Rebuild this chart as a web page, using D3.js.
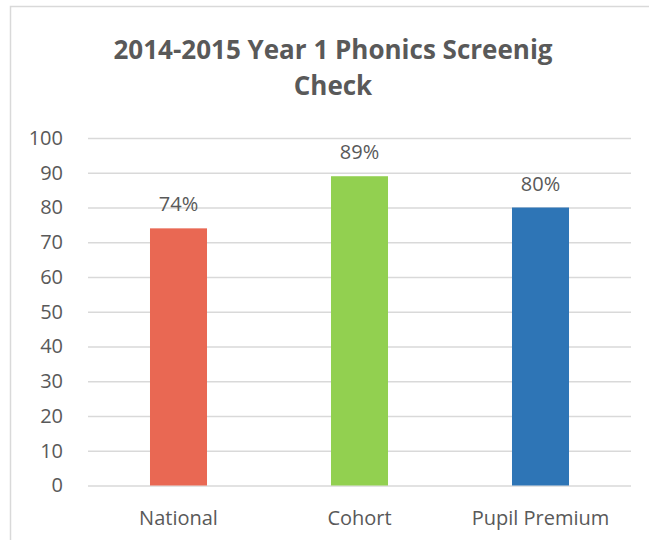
<!DOCTYPE html>
<html>
<head>
<meta charset="utf-8">
<script src="https://cdn.jsdelivr.net/npm/d3@7"></script>
<style>
  body { margin: 0; background: #fff; }
  text { font-family: "Open Sans", sans-serif; }
</style>
</head>
<body>
<div id="chart"></div>
<script>
// Data
const categories = ["National", "Cohort", "Pupil Premium"];
const values = [74, 89, 80];
const barColors = ["#e96853", "#92d050", "#2e75b6"];
const yTicks = [0, 10, 20, 30, 40, 50, 60, 70, 80, 90, 100];
const titleLines = ["2014-2015 Year 1 Phonics Screenig", "Check"];

const W = 649, H = 540;
const margin = { top: 138, right: 18, bottom: 55, left: 88 },
      width = W - margin.left - margin.right,
      height = 485.5 - margin.top;

const colors = {
  text: "#595959",
  grid: "#d9d9d9",
  border: "#d9d9d9"
};

const labelSize = "20px";

const root = d3.select("#chart").append("svg")
    .attr("width", W)
    .attr("height", H);

// chart-area border (only top and left are visible in the crop)
root.append("rect")
    .attr("x", 10.5)
    .attr("y", 6.5)
    .attr("width", 660)
    .attr("height", 560)
    .attr("fill", "none")
    .attr("stroke", colors.border)
    .attr("stroke-width", 1.5);

// Title
root.append("text")
    .attr("text-anchor", "middle")
    .attr("x", 333)
    .attr("y", 59)
    .style("font-size", "26px")
    .style("font-weight", "bold")
    .style("fill", colors.text)
  .selectAll("tspan")
    .data(titleLines)
  .enter().append("tspan")
    .attr("x", 333)
    .attr("dy", (d, i) => i === 0 ? 0 : 36)
    .text(d => d);

const svg = root.append("g")
    .attr("transform", `translate(${margin.left},${margin.top})`);

const x = d3.scaleBand()
    .domain(categories)
    .range([0, width])
    .paddingInner(0.685)
    .paddingOuter(0.3425);

const y = d3.scaleLinear()
    .domain([0, 100])
    .range([height, 0]);

// Gridlines
svg.append("g")
    .call(d3.axisLeft(y).tickValues(yTicks).tickSize(-width).tickFormat(""))
    .call(g => g.select(".domain").remove())
    .call(g => g.selectAll("line").attr("stroke", colors.grid).attr("stroke-width", 1.5));

// Y axis labels
svg.append("g")
    .call(d3.axisLeft(y).tickValues(yTicks).tickSize(0).tickPadding(25))
    .call(g => g.select(".domain").remove())
    .selectAll("text")
      .style("font-family", "'Open Sans', sans-serif")
      .style("font-size", labelSize)
      .style("fill", colors.text);

// Bars
svg.selectAll(".bar")
    .data(values)
  .enter().append("rect")
    .attr("class", "bar")
    .attr("x", (d, i) => x(categories[i]))
    .attr("width", x.bandwidth())
    .attr("y", d => y(d))
    .attr("height", d => height - y(d))
    .attr("fill", (d, i) => barColors[i]);

// Value labels
svg.selectAll(".label")
    .data(values)
  .enter().append("text")
    .attr("class", "label")
    .attr("text-anchor", "middle")
    .attr("x", (d, i) => x(categories[i]) + x.bandwidth() / 2)
    .attr("y", d => y(d) - 17)
    .style("font-size", labelSize)
    .style("fill", colors.text)
    .text(d => d + "%");

// X axis labels
svg.append("g")
    .attr("transform", `translate(0,${height})`)
    .call(d3.axisBottom(x).tickSize(0).tickPadding(25))
    .call(g => g.select(".domain").remove())
    .selectAll("text")
      .style("font-family", "'Open Sans', sans-serif")
      .style("font-size", labelSize)
      .style("fill", colors.text);
</script>
</body>
</html>
